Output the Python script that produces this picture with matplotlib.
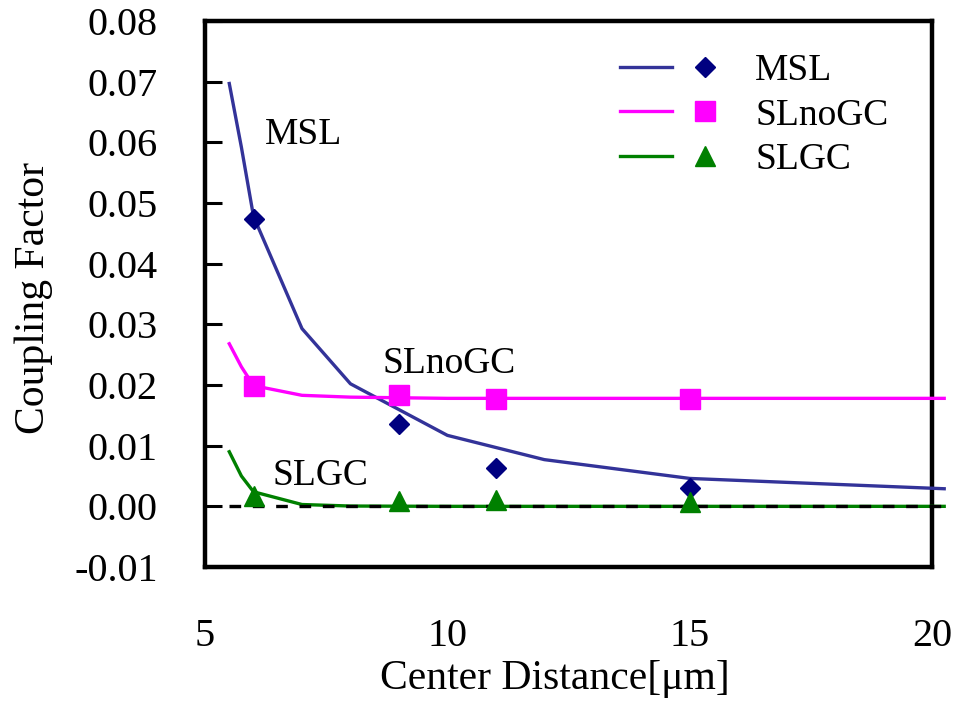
import matplotlib
matplotlib.use('Agg')
import matplotlib.pyplot as plt
from matplotlib.legend_handler import HandlerTuple

plt.rcParams['font.family'] = ['Liberation Serif', 'DejaVu Serif']
plt.rcParams['axes.unicode_minus'] = False

# simulated curves
dist_fit = [5.5, 5.75, 6, 7, 8, 10, 12, 15, 20.25]
msl_fit = [0.0697, 0.0592, 0.0478, 0.0293, 0.0202, 0.0117, 0.0077, 0.0046, 0.0029]
slnogc_fit = [0.0268, 0.0230, 0.0199, 0.0183, 0.0180, 0.0178, 0.0178, 0.0178, 0.0178]
slgc_fit = [0.0090, 0.0050, 0.0024, 0.0003, 0.00005, 0.0, 0.0, 0.0, 0.0]

# measured points
dist_meas = [6, 9, 11, 15]
msl_meas = [0.0474, 0.0135, 0.0064, 0.0031]
slnogc_meas = [0.0199, 0.0183, 0.0177, 0.0177]
slgc_meas = [0.0017, 0.0008, 0.0010, 0.0007]

yticks = [-0.01, 0.00, 0.01, 0.02, 0.03, 0.04, 0.05, 0.06, 0.07, 0.08]
xticks = [5, 10, 15, 20]

fig = plt.figure(figsize=(9.55, 7.10), dpi=100)
ax = fig.add_axes([0.2147, 0.2014, 0.7613, 0.769])

lw = 2.4
l_msl, = ax.plot(dist_fit, msl_fit, color='#333399', lw=lw, clip_on=False, zorder=3)
l_nogc, = ax.plot(dist_fit, slnogc_fit, color='#ff00ff', lw=lw, clip_on=False, zorder=3)
l_gc, = ax.plot(dist_fit, slgc_fit, color='#008000', lw=lw, clip_on=False, zorder=3)
ax.plot([dist_fit[0], dist_fit[-1]], [0, 0], color='black', lw=lw,
        dashes=(3.5, 3.5), clip_on=False, zorder=4)

m_msl, = ax.plot(dist_meas, msl_meas, 'D', color='#000080', ms=10, ls='none', zorder=5)
m_nogc, = ax.plot(dist_meas, slnogc_meas, 's', color='#ff00ff', ms=14, ls='none', zorder=5)
m_gc, = ax.plot(dist_meas, slgc_meas, '^', color='#008000', ms=15, ls='none', zorder=5)

ax.text(6.24, 0.0598, 'MSL', fontsize=27, va='baseline')
ax.text(8.67, 0.0219, 'SLnoGC', fontsize=27, va='baseline')
ax.text(6.40, 0.0035, 'SLGC', fontsize=27, va='baseline')

ax.set_xlim(5, 20)
ax.set_ylim(-0.01, 0.08)
ax.set_xticks(xticks)
ax.set_yticks(yticks)
ax.set_yticklabels(['%.2f' % v for v in yticks])
ax.tick_params(axis='y', direction='in', length=12, width=2.2, labelsize=29, pad=34)
ax.tick_params(axis='x', length=0, labelsize=29, pad=37)
for s in ax.spines.values():
    s.set_linewidth(3.2)

ax.set_xlabel('Center Distance[μm]', fontsize=30)
ax.set_ylabel('Coupling Factor', fontsize=30)
ax.xaxis.set_label_coords(0.481, -0.17)
ax.yaxis.set_label_coords(-0.209, 0.492)

leg = ax.legend([(l_msl, m_msl), (l_nogc, m_nogc), (l_gc, m_gc)],
                ['MSL', 'SLnoGC', 'SLGC'],
                handler_map={tuple: HandlerTuple(ndivide=None, pad=0.17)},
                loc='upper left', bbox_to_anchor=(0.571, 0.94), borderaxespad=0,
                borderpad=0, frameon=False, fontsize=27, handlelength=2.95,
                handletextpad=0.65, labelspacing=0.26)

fig.savefig('out.png', dpi=100)
